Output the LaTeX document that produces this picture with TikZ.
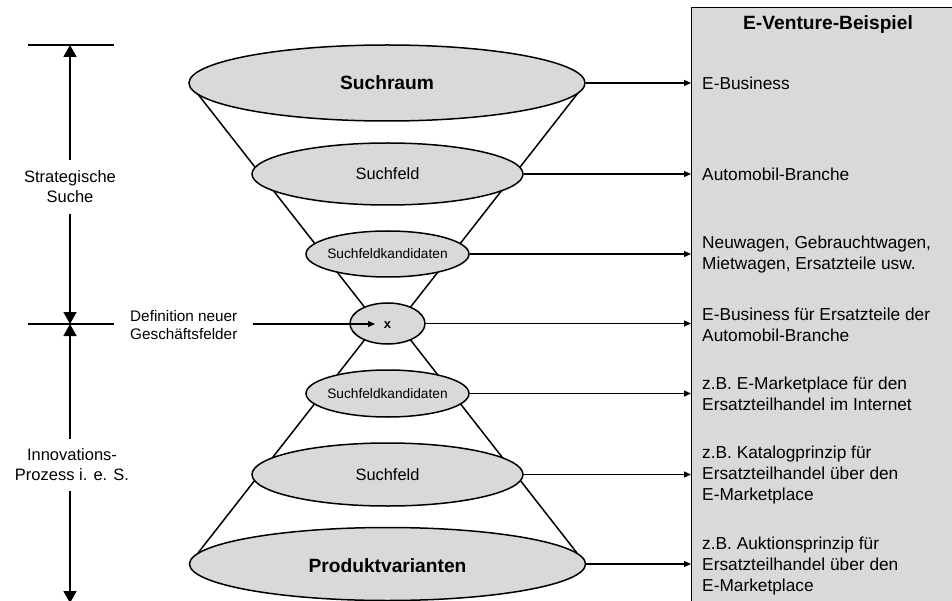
\documentclass[tikz,border=0pt]{standalone}
\usepackage{fontspec}
\setmainfont{Liberation Sans}
\usetikzlibrary{shapes.geometric,arrows.meta}
\definecolor{boxgray}{HTML}{D9D9D9}
\begin{document}
\begin{tikzpicture}[x=1pt,y=-1pt,
  ell/.style={ellipse, draw, fill=boxgray, line width=1.5pt, inner sep=0pt},
  arr/.style={-{Triangle[length=7pt,width=6pt]}, line width=1.1pt},
  bigarr/.style={-{Triangle[length=12pt,width=13pt]}, line width=1.8pt},
  cone/.style={line width=1.5pt},
  bar/.style={line width=1.8pt},
  boxtxt/.style={anchor=west, align=left, inner sep=0pt, font=\fontsize{17.3}{21}\selectfont},
  sidetxt/.style={align=center, inner sep=0pt, outer sep=11pt, font=\fontsize{16.5}{20}\selectfont}
]
\useasboundingbox (0,0) rectangle (952,601);
\clip (0,0) rectangle (952,601);

% right box
\node[draw, fill=boxgray, line width=1pt, minimum width=300pt, minimum height=620pt, anchor=north west, inner sep=0pt] (box) at (691,7) {};
\node[font=\bfseries\fontsize{19.2}{22}\selectfont] (title) at (828,25) {E-Venture-Beispiel};

% cone lines
\coordinate (c1) at (197,93);  \coordinate (a1) at (366,309);
\coordinate (c2) at (578,93);  \coordinate (a2) at (409,309);
\coordinate (c3) at (198,553); \coordinate (a3) at (366,338);
\coordinate (c4) at (577,553); \coordinate (a4) at (409,338);
\draw[cone] (c1) -- (a1);
\draw[cone] (c2) -- (a2);
\draw[cone] (c3) -- (a3);
\draw[cone] (c4) -- (a4);

% ellipses
\node[ell, minimum width=396pt, minimum height=76pt,
  label={[font=\bfseries\fontsize{19.2}{22}\selectfont]center:Suchraum}] (e1) at (387,83) {};
\node[ell, minimum width=271pt, minimum height=62pt,
  label={[font=\fontsize{16.4}{20}\selectfont]center:Suchfeld}] (e2) at (387.5,174) {};
\node[ell, minimum width=163pt, minimum height=46pt,
  label={[font=\fontsize{13.7}{16}\selectfont]center:Suchfeldkandidaten}] (e3) at (387.5,254) {};
\node[ell, minimum width=75pt, minimum height=41pt] (e4) at (387.5,323.5) {};
\node[ell, minimum width=163pt, minimum height=47pt,
  label={[font=\fontsize{13.7}{16}\selectfont]center:Suchfeldkandidaten}] (e5) at (387.5,393.5) {};
\node[ell, minimum width=271pt, minimum height=63pt,
  label={[font=\fontsize{16.4}{20}\selectfont]center:Suchfeld}] (e6) at (387.5,474.5) {};
\node[ell, minimum width=396pt, minimum height=73pt,
  label={[font=\bfseries\fontsize{19.2}{22}\selectfont, yshift=-2pt]center:Produktvarianten}] (e7) at (387.5,564) {};
\node[font=\bfseries\fontsize{13}{15}\selectfont, inner sep=0pt] (xl) at (387.5,325) {x};

% right texts
\node[boxtxt] (r1) at (702,83) {E-Business};
\node[boxtxt] (r2) at (702,174) {Automobil-Branche};
\node[boxtxt] (r3) at (702,255) {Neuwagen, Gebrauchtwagen,\\Mietwagen, Ersatzteile usw.};
\node[boxtxt] (r4) at (702,325) {E-Business für Ersatzteile der\\Automobil-Branche};
\node[boxtxt] (r5) at (702,394) {z.B. E-Marketplace für den\\Ersatzteilhandel im Internet};
\node[boxtxt] (r6) at (702,475) {z.B. Katalogprinzip für\\Ersatzteilhandel über den\\E-Marketplace};
\node[boxtxt] (r7) at (702,566) {z.B. Auktionsprinzip für\\Ersatzteilhandel über den\\E-Marketplace};

% horizontal arrows
\draw[arr] (e1.east) -- (e1.east -| box.west);
\draw[arr] (e2.east) -- (e2.east -| box.west);
\draw[arr] (e3.east) -- (e3.east -| box.west);
\draw[arr] (e4.east) -- (e4.east -| box.west);
\draw[arr] (e5.east) -- (e5.east -| box.west);
\draw[arr] (e6.east) -- (e6.east -| box.west);
\draw[arr] (e7.east) -- (e7.east -| box.west);

% definition
\node[anchor=west, align=left, inner sep=0pt, font=\fontsize{15.3}{18}\selectfont] (def) at (130,325) {Definition neuer\\Geschäftsfelder};
\coordinate (xtip) at (375,324);
\draw[arr] ([xshift=15pt]def.east |- xtip) -- (xtip);

% left scale
\coordinate (t1) at (28,45);  \coordinate (t2) at (114,45);
\coordinate (m1) at (28,324); \coordinate (m2) at (114,324);
\coordinate (top) at (70,45); \coordinate (mid) at (70,324); \coordinate (bot) at (70,603);
\draw[bar] (t1) -- (t2);
\draw[bar] (m1) -- (m2);
\node[sidetxt] (strat) at (70,187) {Strategische\\Suche};
\node[sidetxt, outer sep=10pt] (innov) at (72,465) {Innovations-\\Prozess i. e. S.};
\draw[bigarr] (strat.north) -- (top);
\draw[bigarr] (strat.south) -- (mid);
\draw[bigarr] (innov.north -| mid) -- (mid);
\draw[bigarr] (innov.south -| mid) -- (bot);
\end{tikzpicture}
\end{document}
